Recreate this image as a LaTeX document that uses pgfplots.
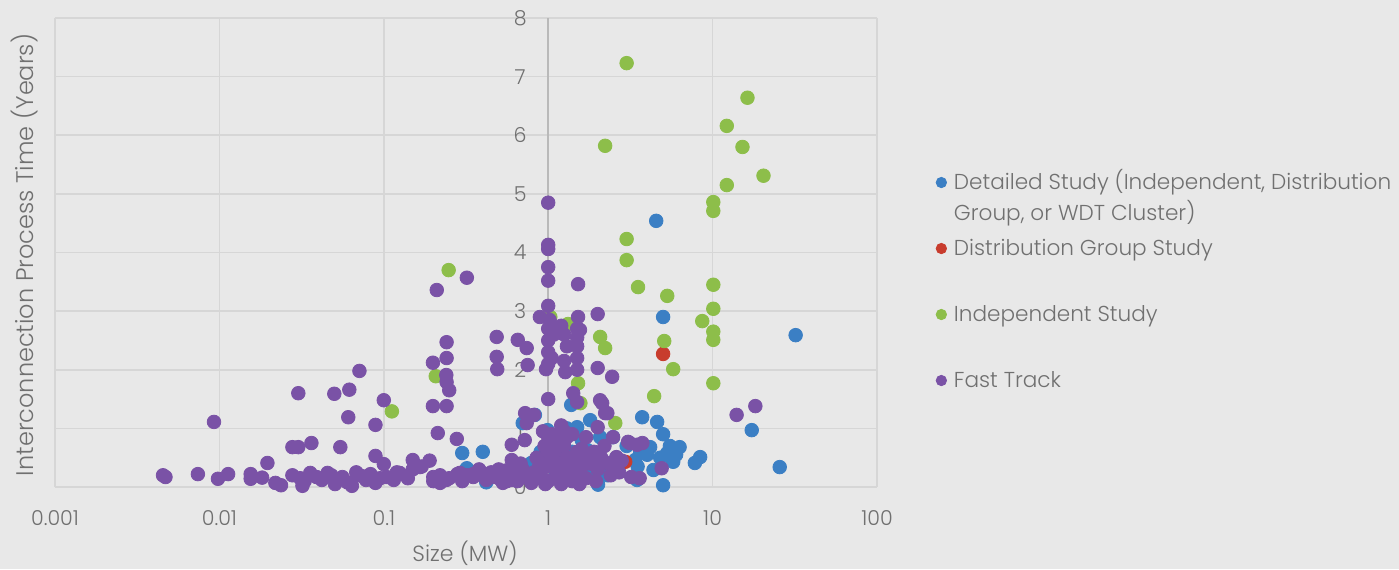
\documentclass[border=0pt]{standalone}
\usepackage{fontspec}
\setmainfont{Poppins}[UprightFont=* Light]
\usepackage{pgfplots}
\pgfplotsset{compat=1.18}
\definecolor{bgc}{RGB}{232,232,232}
\definecolor{gridc}{RGB}{214,214,214}
\definecolor{axisc}{RGB}{185,185,185}
\definecolor{textc}{RGB}{112,112,112}
\definecolor{cblue}{RGB}{59,127,196}
\definecolor{cred}{RGB}{200,60,45}
\definecolor{cgreen}{RGB}{141,190,74}
\definecolor{cpurple}{RGB}{122,82,166}
\newcommand{\lt}[1]{\raisebox{0pt}[7pt][0pt]{\begin{tabular}[t]{@{}l@{}}#1\end{tabular}}}
\begin{document}
\begin{tikzpicture}
\path[use as bounding box, fill=bgc] (-27.5pt,-41pt) rectangle (672pt,243.5pt);
\begin{axis}[
  scale only axis, width=411pt, height=234.5pt,
  at={(0pt,0pt)}, anchor=south west,
  xmode=log, xmin=0.001, xmax=100, ymin=0, ymax=8,
  enlargelimits=false, clip=false,
  axis y line=middle, axis x line=bottom,
  hide obscured x ticks=false, hide obscured y ticks=false,
  every inner y axis line/.append style={-, draw=axisc, line width=0.9pt},
  every outer x axis line/.append style={-, draw=gridc, line width=0.8pt},
  every inner x axis line/.append style={-},
  every outer y axis line/.append style={-},
  xtick={0.001,0.01,0.1,1,10,100},
  xticklabels={0.001,0.01,0.1,1,10,100},
  ytick={0,1,2,3,4,5,6,7,8},
  yticklabels={0,1,2,3,4,5,6,7,8},
  minor xtick={},
  major tick length=0pt, minor tick length=0pt,
  xmajorgrids, ymajorgrids,
  major grid style={draw=gridc, line width=0.8pt},
  xticklabel style={anchor=center, yshift=-15.5pt, text=textc, font=\fontsize{10.3}{12}\selectfont},
  yticklabel style={anchor=center, xshift=-14pt, text=textc, font=\fontsize{10.3}{12}\selectfont},
  legend cell align=left,
  legend style={at={(1.071,0.665)}, anchor=north west, draw=none, fill=none,
    inner sep=0pt, row sep=26pt, column sep=3.5pt,
    nodes={inner sep=0pt, text depth={}, text=textc, font=\fontsize{10.8}{14}\selectfont}},
  only marks,
]
\addplot[mark=*, mark size=3.4pt, color=cblue, mark options={draw=none, fill=cblue},
  legend image code/.code={\fill[cblue] (0pt,0pt) circle (2.6pt);}] coordinates {
(4.54,4.54) (5.0,2.9) (32,2.59) (17.3,0.97) (25.6,0.34) (3.73,1.19) (4.6,1.11) (5.0,0.90)
(5.0,0.03) (2.01,0.04) (0.42,0.08) (0.30,0.58) (0.40,0.60) (0.83,1.23) (1.5,1.02) (1.8,1.14)
(2.48,0.85) (3.63,0.6) (4.17,0.68) (6.3,0.68) (5.3,0.58) (5.76,0.43) (7.8,0.41) (8.4,0.51)
(3.38,0.46) (4.37,0.29) (3.47,0.12) (0.70,1.09) (0.99,0.97) (0.32,0.32) (0.79,0.41) (2.07,0.85)
(1.73,0.63) (1.2,0.5) (1.1,0.3) (1.4,0.6) (2.2,0.4) (2.6,0.5) (3.0,0.7) (1.6,0.8) (0.9,0.6)
(1.9,0.25) (2.3,0.2) (3.5,0.35) (4.0,0.55) (4.8,0.5) (1.3,1.0) (1.38,1.4) (0.95,0.45) (5.5,0.7) (6.0,0.55)
};
\addlegendentry{\lt{Detailed Study (Independent, Distribution\\[1pt]Group, or WDT Cluster)}}
\addplot[mark=*, mark size=3.4pt, color=cred, mark options={draw=none, fill=cred},
  legend image code/.code={\fill[cred] (0pt,0pt) circle (2.6pt);}] coordinates {
(5.0,2.27) (2.94,0.43) (1.1,0.84)
};
\addlegendentry{\lt{Distribution Group Study}}
\addplot[mark=*, mark size=3.4pt, color=cgreen, mark options={draw=none, fill=cgreen},
  legend image code/.code={\fill[cgreen] (0pt,0pt) circle (2.6pt);}] coordinates {
(3.0,7.23) (16.3,6.64) (12.2,6.16) (15.2,5.80) (20.4,5.31) (12.2,5.15) (10.1,4.86) (10.1,4.71)
(2.22,5.82) (3.0,4.23) (3.0,3.87) (3.52,3.41) (5.30,3.26) (10.1,3.45) (10.1,3.04) (8.65,2.83)
(10.1,2.65) (10.1,2.51) (2.07,2.56) (2.22,2.37) (5.08,2.49) (5.76,2.01) (10.1,1.77) (4.41,1.55)
(1.52,1.77) (1.57,1.43) (2.56,1.09) (1.03,2.9) (1.32,2.78) (0.112,1.29) (0.248,3.7) (0.207,1.89)
};
\addlegendentry{\lt{Independent Study}}
\addplot[mark=*, mark size=3.4pt, color=cpurple, mark options={draw=none, fill=cpurple},
  legend image code/.code={\fill[cpurple] (0pt,0pt) circle (2.6pt);}] coordinates {
(0.00454,0.2) (0.0047,0.17) (0.0074,0.22) (0.00927,1.11) (0.0098,0.14) (0.0113,0.22) (0.0155,0.22)
(0.0155,0.14) (0.0182,0.16) (0.0196,0.41) (0.0219,0.07) (0.0237,0.03)
(0.0278,0.68) (0.0302,0.68) (0.0363,0.75) (0.0544,0.68) (0.0302,1.60) (0.050,1.59) (0.0617,1.66)
(0.0711,1.98) (0.1,1.48) (0.0608,1.19) (0.089,1.06) (0.089,0.53) (0.1,0.39)
(0.0278,0.2) (0.031,0.15) (0.032,0.02) (0.0357,0.24) (0.039,0.17) (0.0455,0.24) (0.0505,0.05)
(0.056,0.17) (0.064,0.02) (0.071,0.2) (0.078,0.12) (0.089,0.07) (0.104,0.17) (0.115,0.12)
(0.033,0.1) (0.042,0.12) (0.048,0.2) (0.06,0.08) (0.068,0.25) (0.075,0.18) (0.083,0.22) (0.095,0.15)
(0.12,0.25) (0.14,0.15) (0.15,0.3) (0.17,0.35) (0.19,0.45) (0.2,0.1) (0.22,0.2) (0.25,0.15)
(0.28,0.22) (0.32,0.2) (0.35,0.22) (0.4,0.2) (0.45,0.25) (0.5,0.15) (0.55,0.28) (0.6,0.22)
(0.65,0.1) (0.7,0.3) (0.75,0.2) (0.8,0.12)
(0.15,0.46) (0.166,0.34) (0.125,0.24) (0.2,0.17) (0.22,0.07) (0.24,0.12) (0.29,0.24) (0.35,0.17)
(0.46,0.17) (0.53,0.07) (0.6,0.12) (0.74,0.17) (0.79,0.07) (0.89,0.29)
(0.3,0.1) (0.38,0.3) (0.42,0.12) (0.5,0.3) (0.56,0.1) (0.65,0.25) (0.68,0.4) (0.85,0.15) (0.92,0.4) (0.96,0.05)
(0.199,2.12) (0.241,2.47) (0.241,2.2) (0.199,1.38) (0.241,1.38) (0.213,0.92) (0.241,1.79)
(0.24,1.91) (0.25,1.65) (0.278,0.82) (0.21,3.36) (0.32,3.57)
(0.486,2.56) (0.653,2.51) (0.74,2.37) (0.486,2.22) (0.49,2.01) (0.75,2.08) (0.724,1.26)
(0.74,1.09) (0.82,1.23) (0.6,0.72) (0.72,0.8) (0.6,0.46) (0.58,0.29)
(1.0,4.85) (1.0,4.13) (1.0,4.06) (1.0,3.75) (1.0,3.52) (1.0,3.09) (0.89,2.9) (1.0,2.1) (1.0,2.3)
(1.0,2.5) (1.0,2.7) (1.02,2.85) (1.05,2.2) (1.08,2.6) (0.97,2.01) (1.0,1.5)
(1.2,2.75) (1.25,2.6) (1.3,2.4) (1.25,2.15) (1.27,1.96)
(1.52,3.46) (1.52,2.9) (1.5,2.0) (1.5,2.2) (1.5,2.4) (1.5,2.55) (1.5,2.7) (1.56,2.68) (1.42,1.6) (1.5,1.45)
(2.0,2.95) (2.0,2.03) (2.45,1.88) (2.13,1.43) (2.29,1.26) (2.0,1.02) (2.48,0.85) (3.06,0.77)
(3.47,0.72) (2.07,1.48) (2.22,1.26)
(3.14,0.75) (3.74,0.75) (4.9,0.32) (3.2,0.17) (3.6,0.15) (2.3,0.41) (2.6,0.51)
(14.0,1.23) (18.2,1.38)
(0.85,0.5) (0.9,0.2) (0.95,0.7) (1.0,0.1) (1.0,0.35) (1.0,0.6) (1.0,0.85) (1.05,0.45) (1.1,0.15)
(1.1,0.6) (1.15,0.3) (1.2,0.05) (1.2,0.4) (1.25,0.7) (1.3,0.2) (1.3,0.5) (1.35,0.35) (1.4,0.1)
(1.45,0.45) (1.5,0.25) (1.5,0.6) (1.55,0.05) (1.6,0.35) (1.65,0.5) (1.7,0.15) (1.8,0.4) (1.9,0.6)
(1.95,0.1) (2.0,0.3) (2.1,0.5) (2.2,0.7) (2.4,0.2) (2.5,0.35) (2.7,0.25) (2.8,0.45) (0.93,0.95)
(1.05,0.9) (1.15,0.8) (1.4,0.9) (1.7,0.85) (1.2,1.05) (0.88,0.35) (0.82,0.25)
(1.1,0.75) (1.3,0.85) (1.6,0.65) (1.25,0.95)
};
\addlegendentry{\lt{Fast Track}}
\end{axis}
\node[rotate=90, text=textc, font=\fontsize{12}{14}\selectfont] at (-15pt,116pt) {Interconnection Process Time (Years)};
\node[text=textc, font=\fontsize{11}{13}\selectfont] at (205pt,-33pt) {Size (MW)};
\end{tikzpicture}
\end{document}
